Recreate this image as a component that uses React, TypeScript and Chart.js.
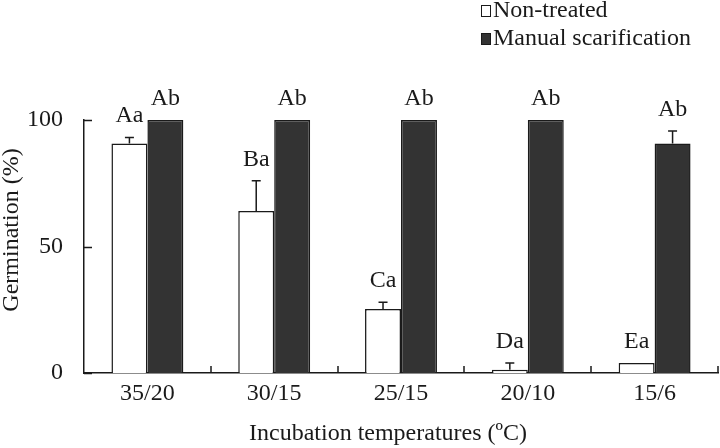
import React, { useEffect, useRef } from "react";
import { Chart, registerables } from "chart.js";

Chart.register(...registerables);

const categories = ["35/20", "30/15", "25/15", "20/10", "15/6"];
const seriesNames = ["Non-treated", "Manual scarification"];
const nonTreated = [90.7, 64, 25.3, 1.3, 4];
const nonTreatedErr = [2.4, 12, 2.7, 2.7, 0];
const scarified = [100, 100, 100, 100, 90.7];
const scarifiedErr = [0, 0, 0, 0, 5];
const nonTreatedLetters = ["Aa", "Ba", "Ca", "Da", "Ea"];
const scarifiedLetters = ["Ab", "Ab", "Ab", "Ab", "Ab"];
const yTickValues = [0, 50, 100];
const xTitle = "Incubation temperatures (ºC)";
const yTitle = "Germination (%)";

const FONT_FAMILY = '"Liberation Serif", "Times New Roman", serif';
const FONT_SIZE = 24;
const FONT = `${FONT_SIZE}px ${FONT_FAMILY}`;
const INK = "#1a1a1a";
const DARK = "#333333";

const overlay = {
  id: "overlay",
  afterDraw(chart: any) {
    const ctx: CanvasRenderingContext2D = chart.ctx;
    const xs = chart.scales.x;
    const ys = chart.scales.y;
    const area = chart.chartArea;
    ctx.save();
    ctx.strokeStyle = INK;
    ctx.fillStyle = INK;
    ctx.lineWidth = 1.5;
    ctx.font = FONT;

    const errs = [nonTreatedErr, scarifiedErr];
    const letters = [nonTreatedLetters, scarifiedLetters];
    chart.data.datasets.forEach((ds: any, di: number) => {
      const meta = chart.getDatasetMeta(di);
      meta.data.forEach((bar: any, i: number) => {
        const v = ds.data[i];
        const e = errs[di][i];
        const top = ys.getPixelForValue(v + e);
        if (e > 0) {
          ctx.beginPath();
          ctx.moveTo(bar.x, bar.y);
          ctx.lineTo(bar.x, top);
          ctx.moveTo(bar.x - 4.5, top);
          ctx.lineTo(bar.x + 4.5, top);
          ctx.stroke();
        }
        ctx.textAlign = "center";
        ctx.textBaseline = "alphabetic";
        ctx.fillText(letters[di][i], bar.x, top - 15);
      });
    });

    // inward tick marks on y axis
    ctx.beginPath();
    yTickValues.forEach((t) => {
      const py = Math.round(ys.getPixelForValue(t)) + 0.5;
      ctx.moveTo(area.left, py);
      ctx.lineTo(area.left + 8, py);
    });
    // inward tick marks between categories on x axis
    for (let i = 0; i < categories.length; i++) {
      const px =
        i < categories.length - 1
          ? (xs.getPixelForValue(i) + xs.getPixelForValue(i + 1)) / 2
          : area.right;
      ctx.moveTo(Math.round(px), area.bottom);
      ctx.lineTo(Math.round(px), area.bottom - 7);
    }
    ctx.stroke();

    // legend
    const lx = 481;
    const rows = [
      { y: 5, fill: "#ffffff" },
      { y: 33, fill: DARK },
    ];
    rows.forEach((r, i) => {
      ctx.fillStyle = r.fill;
      ctx.fillRect(lx, r.y, 9, 11);
      ctx.lineWidth = 1;
      ctx.strokeStyle = INK;
      ctx.strokeRect(lx + 0.5, r.y + 0.5, 9, 11);
      ctx.fillStyle = INK;
      ctx.textAlign = "left";
      ctx.textBaseline = "alphabetic";
      ctx.fillText(chart.data.datasets[i].label, lx + 12, r.y + 12);
    });

    // axis titles
    ctx.textAlign = "center";
    ctx.textBaseline = "middle";
    ctx.fillText(xTitle, 388, 434);
    ctx.translate(12, 230);
    ctx.rotate(-Math.PI / 2);
    ctx.fillText(yTitle, 0, 0);
    ctx.restore();
  },
};

export default function App() {
  const ref = useRef<HTMLCanvasElement>(null);
  useEffect(() => {
    document.body.style.margin = "0";
    const chart = new Chart(ref.current!, {
      type: "bar",
      data: {
        labels: categories,
        datasets: [
          {
            label: seriesNames[0],
            data: nonTreated,
            backgroundColor: "#ffffff",
            borderColor: INK,
            borderWidth: 1.5,
          },
          {
            label: seriesNames[1],
            data: scarified,
            backgroundColor: DARK,
            borderColor: INK,
            borderWidth: 1.5,
          },
        ],
      },
      options: {
        responsive: false,
        animation: false,
        layout: { padding: { top: 120, right: 2, left: 0, bottom: 0 } },
        datasets: { bar: { categoryPercentage: 0.567, barPercentage: 1 } },
        plugins: { legend: { display: false }, tooltip: { enabled: false } },
        scales: {
          x: {
            grid: { display: false, drawTicks: false },
            border: { display: true, color: INK, width: 1.5 },
            ticks: { color: INK, font: { family: FONT_FAMILY, size: FONT_SIZE }, padding: 6 },
            afterFit: (s: any) => {
              s.height = 75;
            },
          },
          y: {
            min: 0,
            max: 100,
            grid: { display: false, drawTicks: false },
            border: { display: true, color: INK, width: 1.5 },
            ticks: {
              stepSize: 50,
              color: INK,
              font: { family: FONT_FAMILY, size: FONT_SIZE },
              padding: 21,
            },
            afterFit: (s: any) => {
              s.width = 84;
            },
          },
        },
      },
      plugins: [overlay],
    });
    return () => chart.destroy();
  }, []);
  return (
    <div style={{ width: 720, height: 448 }}>
      <canvas ref={ref} width={720} height={448} />
    </div>
  );
}
